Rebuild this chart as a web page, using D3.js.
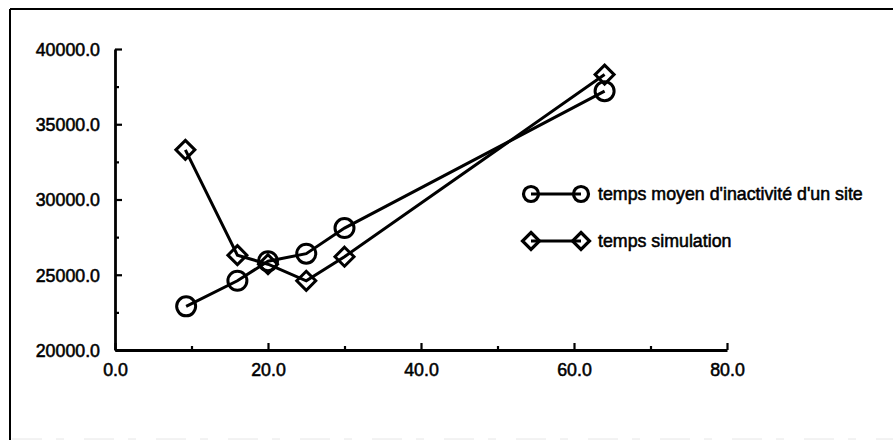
<!DOCTYPE html>
<html>
<head>
<meta charset="utf-8">
<script src="https://cdn.jsdelivr.net/npm/d3@7"></script>
<style>
  html, body { margin: 0; padding: 0; background: #fff; }
  svg { display: block; }
  text { font-family: "Liberation Sans", Arial, Helvetica, sans-serif; fill: #000; }
</style>
</head>
<body>
<svg id="chart" width="893" height="440"></svg>
<script>
// Nombre de sites (x) et temps mesurés (y)
const xInactivite = [9.3, 16, 20, 25, 30, 64];
const yInactivite = [22900, 24600, 25900, 26400, 28100, 37200];
const xSimulation = [9.2, 16, 20, 25, 30, 64];
const ySimulation = [33300, 26300, 25700, 24600, 26200, 38300];

const seriesNames = ["temps moyen d'inactivité d'un site", "temps simulation"];
const xTicks = [0, 20, 40, 60, 80];
const xMinorTicks = [10, 30, 50, 70];
const yTicks = [20000, 25000, 30000, 35000, 40000];
const yMinorTicks = [22500, 27500, 32500, 37500];

const svg = d3.select("#chart");

// Cadre de la figure
svg.append("line").attr("x1", 10).attr("x2", 893).attr("y1", 9).attr("y2", 9)
  .attr("stroke", "#000").attr("stroke-width", 2);
svg.append("line").attr("x1", 10).attr("x2", 10).attr("y1", 9).attr("y2", 440)
  .attr("stroke", "#000").attr("stroke-width", 2);
svg.append("line").attr("x1", 12).attr("x2", 893).attr("y1", 439).attr("y2", 439)
  .attr("stroke", "#e6e6e6").attr("stroke-width", 1).attr("stroke-dasharray", "30 14 8 20");

const x = d3.scaleLinear().domain([0, 80]).range([115, 727]);
const y = d3.scaleLinear().domain([20000, 40000]).range([350, 49]);

const fmt = d3.format(".1f");
const axisStroke = 2.8;
const fontSize = 17.8;
const textStroke = 0.55;

function styleAxis(g) {
  g.select(".domain").attr("stroke", "#000").attr("stroke-width", axisStroke);
  g.selectAll(".tick line").attr("stroke", "#000").attr("stroke-width", 2.2);
  g.selectAll(".tick text")
    .attr("font-size", fontSize)
    .attr("stroke", "#000").attr("stroke-width", textStroke)
    .style("font-family", '"Liberation Sans", Arial, sans-serif');
}

// Axe Y
const gy = svg.append("g").attr("transform", `translate(${x(0)},0)`);
gy.call(d3.axisLeft(y).tickValues(yTicks).tickFormat(fmt)
  .tickSizeInner(-7).tickSizeOuter(0).tickPadding(15));
styleAxis(gy);
gy.selectAll(".tick text").attr("dy", "0.36em");
const gyMinor = svg.append("g").attr("transform", `translate(${x(0)},0)`);
gyMinor.call(d3.axisLeft(y).tickValues(yMinorTicks).tickFormat("")
  .tickSizeInner(-4).tickSizeOuter(0));
gyMinor.select(".domain").remove();
gyMinor.selectAll(".tick line").attr("stroke", "#000").attr("stroke-width", 2.2);

// Axe X
const gx = svg.append("g").attr("transform", `translate(0,${y(20000)})`);
gx.call(d3.axisBottom(x).tickValues(xTicks).tickFormat(fmt)
  .tickSizeInner(-7).tickSizeOuter(0).tickPadding(13));
styleAxis(gx);
const gxMinor = svg.append("g").attr("transform", `translate(0,${y(20000)})`);
gxMinor.call(d3.axisBottom(x).tickValues(xMinorTicks).tickFormat("")
  .tickSizeInner(-4).tickSizeOuter(0));
gxMinor.select(".domain").remove();
gxMinor.selectAll(".tick line").attr("stroke", "#000").attr("stroke-width", 2.2);

const line = d3.line().x(d => x(d[0])).y(d => y(d[1]));
const ptsInactivite = xInactivite.map((v, i) => [v, yInactivite[i]]);
const ptsSimulation = xSimulation.map((v, i) => [v, ySimulation[i]]);

const lineStroke = 3;
const markerStroke = 3;

function diamondPath(cx, cy, h) {
  return `M${cx},${cy - h}L${cx + h},${cy}L${cx},${cy + h}L${cx - h},${cy}Z`;
}

// Courbes
svg.append("path").datum(ptsInactivite).attr("d", line)
  .attr("fill", "none").attr("stroke", "#000").attr("stroke-width", lineStroke);
svg.append("path").datum(ptsSimulation).attr("d", line)
  .attr("fill", "none").attr("stroke", "#000").attr("stroke-width", lineStroke);

// Marqueurs
svg.append("g").selectAll("circle").data(ptsInactivite).join("circle")
  .attr("cx", d => x(d[0])).attr("cy", d => y(d[1])).attr("r", 9.5)
  .attr("fill", "none").attr("stroke", "#000").attr("stroke-width", markerStroke);
svg.append("g").selectAll("path").data(ptsSimulation).join("path")
  .attr("d", d => diamondPath(x(d[0]), y(d[1]), 9.5))
  .attr("fill", "none").attr("stroke", "#000").attr("stroke-width", markerStroke)
  .attr("stroke-linejoin", "miter");

// Légende
const legend = svg.append("g");
const legRows = [
  { name: seriesNames[0], y: 194, shape: "circle" },
  { name: seriesNames[1], y: 241, shape: "diamond" }
];
legRows.forEach(r => {
  const x1 = 531, x2 = 581;
  legend.append("line").attr("x1", x1).attr("x2", x2).attr("y1", r.y).attr("y2", r.y)
    .attr("stroke", "#000").attr("stroke-width", 2.8);
  [x1, x2].forEach(cx => {
    if (r.shape === "circle") {
      legend.append("circle").attr("cx", cx).attr("cy", r.y).attr("r", 7.5)
        .attr("fill", "none").attr("stroke", "#000").attr("stroke-width", 3.2);
    } else {
      legend.append("path").attr("d", diamondPath(cx, r.y, 8.5))
        .attr("fill", "none").attr("stroke", "#000").attr("stroke-width", 3.2);
    }
  });
  legend.append("text").attr("x", 598).attr("y", r.y).attr("dy", "0.36em")
    .attr("font-size", fontSize).attr("stroke", "#000").attr("stroke-width", textStroke)
    .text(r.name);
});
</script>
</body>
</html>
